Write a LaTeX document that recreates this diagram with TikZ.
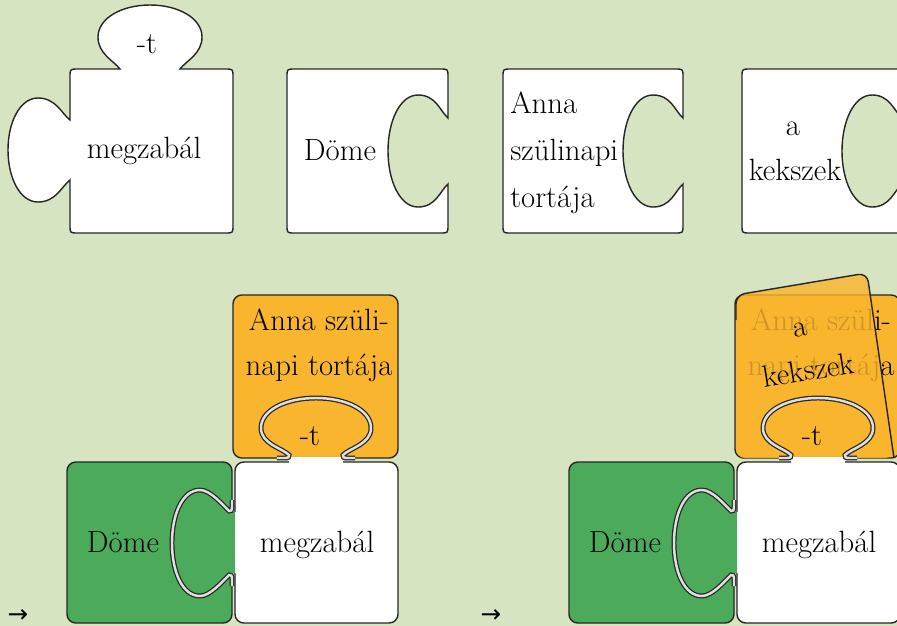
\documentclass[tikz,border=0pt]{standalone}
\usepackage{fontspec}
\newfontfamily\arrowfont{DejaVu Sans}
\definecolor{bgc}{HTML}{D6E4C1}
\definecolor{orangec}{HTML}{F9B52E}
\definecolor{greenc}{HTML}{4BAB5B}
\tikzset{
  piece/.style={draw=black!85, fill=white, line width=0.8pt},
  edge/.style={draw=black!85, line width=0.8pt},
  seam/.style={draw=black!85, line width=0.7pt, double=white!75!gray, double distance=1.4pt},
  lbl/.style={font=\fontsize{17.5}{26}\selectfont, inner sep=0pt, anchor=base},
  arr/.style={font=\arrowfont\fontsize{14}{14}\selectfont, inner sep=0pt}
}
% the three pieces put together; #2 goes over the orange piece
\newcommand{\joined}[2]{%
  \fill[orangec, rounded corners=5pt] (233,295) rectangle (398,458);
  \draw[edge, rounded corners=5pt] (289,458) -- (233,458) -- (233,295) -- (398,295) -- (398,458) -- (343,458);
  \node[lbl] (#1annaA) at (319,330) {Anna szüli-};
  \node[lbl] (#1annaB) at (319,375) {napi tortája};
  #2
  \fill[greenc, rounded corners=5pt] (67,462) rectangle (232,623);
  \fill[greenc] (226,512) rectangle (235.5,573);
  \draw[edge, rounded corners=5pt] (232,573) -- (232,623) -- (67,623) -- (67,462) -- (232,462) -- (232,512);
  \fill[white, rounded corners=5pt] (235,462) rectangle (398,623);
  \fill[white] (289,457) rectangle (343,463);
  \draw[edge, rounded corners=5pt] (289,462) -- (235,462) -- (235,512);
  \draw[edge, rounded corners=5pt] (235,573) -- (235,623) -- (398,623) -- (398,462) -- (343,462);
  % knob of megzabal inside the orange piece
  \draw[seam] (277,458) -- (285,458) .. controls (288,458) and (290,457) .. (289,455)
    .. controls (282,448) and (261,444) .. (261,428) .. controls (261,410) and (286,398) .. (316,398)
    .. controls (346,398) and (371,410) .. (371,428) .. controls (371,444) and (350,448) .. (343,455)
    .. controls (342,457) and (344,458) .. (347,458) -- (355,458);
  % socket of the green piece
  \draw[seam] (232,500) -- (232,507) .. controls (232,510) and (231,512) .. (229,511)
    .. controls (222,504) and (210,490) .. (200,490) .. controls (182,490) and (172,515) .. (172,543)
    .. controls (172,571) and (182,596) .. (200,596) .. controls (210,596) and (222,582) .. (229,575)
    .. controls (231,574) and (232,576) .. (232,579) -- (232,586);
  \node[lbl] (#1tt) at (310,445) {-t};
  \node[lbl] (#1dome) at (123,552) {Döme};
  \node[lbl] (#1megz) at (317,552) {megzabál};
}
\begin{document}
\begin{tikzpicture}[x=0.02cm, y=-0.02cm]
\useasboundingbox (0,0) rectangle (897,626);
\fill[bgc] (0,0) rectangle (897,626);

% top row: the loose pieces
\draw[piece] (70,120) -- (70,77) .. controls (70,69) .. (78,69) -- (120,69)
  .. controls (114,61) and (98,54) .. (98,37) .. controls (98,18) and (122,5) .. (150,5)
  .. controls (178,5) and (202,18) .. (202,37) .. controls (202,54) and (186,61) .. (180,69)
  -- (225,69) .. controls (233,69) .. (233,77) -- (233,225) .. controls (233,233) .. (225,233)
  -- (78,233) .. controls (70,233) .. (70,225) -- (70,180)
  .. controls (62,186) and (56,202) .. (38,202) .. controls (20,202) and (8,178) .. (8,150)
  .. controls (8,122) and (20,98) .. (38,98) .. controls (56,98) and (62,114) .. (70,120) -- cycle;
\node[lbl] (tA) at (147,53) {-t};
\node[lbl] (megzA) at (144,158) {megzabál};

\draw[piece] (448,118)
  .. controls (440,111) and (436,95) .. (418,95) .. controls (400,95) and (388,121) .. (388,151)
  .. controls (388,181) and (400,207) .. (418,207) .. controls (436,207) and (440,191) .. (448,184)
  -- (448,225) .. controls (448,233) .. (440,233) -- (295,233) .. controls (287,233) .. (287,225)
  -- (287,77) .. controls (287,69) .. (295,69) -- (440,69) .. controls (448,69) .. (448,77) -- cycle;
\node[lbl] (domeA) at (340,160) {Döme};

\draw[piece] (683,118)
  .. controls (675,111) and (671,95) .. (653,95) .. controls (635,95) and (623,121) .. (623,151)
  .. controls (623,181) and (635,207) .. (653,207) .. controls (671,207) and (675,191) .. (683,184)
  -- (683,225) .. controls (683,233) .. (675,233) -- (511,233) .. controls (503,233) .. (503,225)
  -- (503,77) .. controls (503,69) .. (511,69) -- (675,69) .. controls (683,69) .. (683,77) -- cycle;
\node[lbl, anchor=base west] (annaA) at (510,113) {Anna};
\node[lbl, anchor=base west] (annaB) at (510,160) {szülinapi};
\node[lbl, anchor=base west] (annaC) at (510,207) {tortája};

\draw[piece] (902,118)
  .. controls (894,111) and (890,95) .. (872,95) .. controls (854,95) and (842,121) .. (842,151)
  .. controls (842,181) and (854,207) .. (872,207) .. controls (890,207) and (894,191) .. (902,184)
  -- (902,225) .. controls (902,233) .. (894,233) -- (750,233) .. controls (742,233) .. (742,225)
  -- (742,77) .. controls (742,69) .. (750,69) -- (894,69) .. controls (902,69) .. (902,77) -- cycle;
\node[lbl] (kekA) at (793,135) {a};
\node[lbl] (kekB) at (795,180) {kekszek};

% bottom row: put together
\begin{scope}
\joined{l}{}
\end{scope}
\begin{scope}[shift={(502,0)}]
\joined{r}{%
  \fill[orangec, fill opacity=0.82, rounded corners=5pt] (234,458) -- (234,295) -- (365,273) -- (392,458) -- cycle;
  \draw[edge, rounded corners=5pt] (234,320) -- (234,295) -- (365,273) -- (392,458);
  \node[lbl, rotate=9] (rkekA) at (299,336) {a};
  \node[lbl, rotate=9] (rkekB) at (308,380) {kekszek};
}
\end{scope}

\node[arr] (arrA) at (18,616) {→};
\node[arr] (arrB) at (491,616) {→};
\end{tikzpicture}
\end{document}
